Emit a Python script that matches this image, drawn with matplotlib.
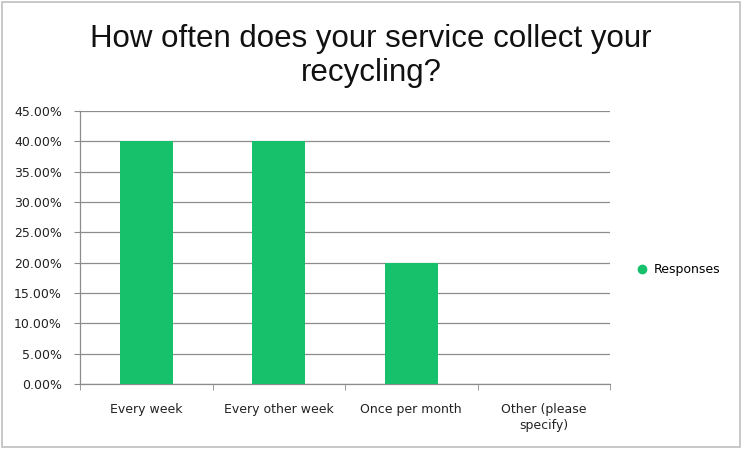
import numpy as np
import matplotlib
matplotlib.use("Agg")
import matplotlib.pyplot as plt
from matplotlib.ticker import FuncFormatter, MultipleLocator
from matplotlib.lines import Line2D
from matplotlib.patches import Rectangle

# Survey results
categories = ["Every week", "Every other week", "Once per month", "Other (please\nspecify)"]
responses = [40.0, 40.0, 20.0, 0.0]
series_name = "Responses"
title = "How often does your service collect your\nrecycling?"

bar_color = "#17c06b"
grid_color = "#8c8c8c"

plt.rcParams['font.family'] = ['DejaVu Sans']

fig = plt.figure(figsize=(7.42, 4.49), dpi=100)
W, H = 742, 449
ax = fig.add_axes([80 / W, 1 - 384 / H, (610 - 80) / W, (384 - 111) / H])

x = np.arange(len(categories))
ax.bar(x, responses, width=0.4, color=bar_color, zorder=3)

ax.set_xlim(-0.5, len(categories) - 0.5)
ax.set_ylim(0, 45)
ax.yaxis.set_major_locator(MultipleLocator(5))
ax.yaxis.set_major_formatter(FuncFormatter(lambda v, p: "{:.2f}%".format(v)))
ax.grid(axis='y', color=grid_color, lw=0.9, zorder=0)

ax.set_xticks(x)
ax.set_xticklabels(categories, fontsize=9, color="#222222", linespacing=1.25)
ax.set_xticks(np.arange(len(categories) + 1) - 0.5, minor=True)
ax.tick_params(axis='x', which='major', length=0, pad=14)
ax.tick_params(axis='x', which='minor', length=4, color=grid_color, direction='out')
ax.tick_params(axis='y', length=4, color=grid_color, labelsize=9, labelcolor="#222222", pad=9)

for s in ['top', 'right']:
    ax.spines[s].set_visible(False)
for s in ['left', 'bottom']:
    ax.spines[s].set_color(grid_color)
    ax.spines[s].set_linewidth(0.9)

fig.text(0.5, 1 - 56 / H, title, ha='center', va='center', fontsize=22.5,
         family='Liberation Sans', color="#111111", linespacing=1.2)

handle = Line2D([], [], marker='o', ls='none', color=bar_color, markersize=6)
fig.legend([handle], [series_name], loc='center left', bbox_to_anchor=(624 / W, 1 - 270 / H),
           frameon=False, fontsize=9, handletextpad=0.0, borderaxespad=0)

fig.patches.append(Rectangle((2 / W, 2 / H), 1 - 4 / W, 1 - 4 / H, transform=fig.transFigure,
                             fill=False, edgecolor="#bfbfbf", lw=1.2))

fig.savefig("out.png", dpi=100)
